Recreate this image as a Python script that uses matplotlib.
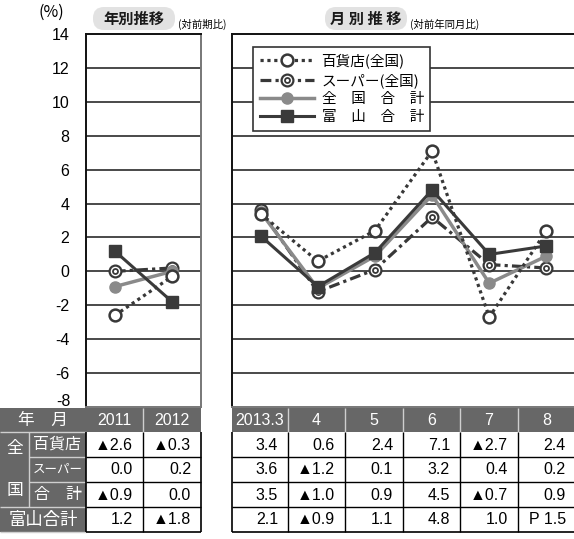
import matplotlib
matplotlib.use("Agg")
import matplotlib.pyplot as plt
from matplotlib import font_manager
from matplotlib.patches import Rectangle, FancyBboxPatch
from matplotlib.lines import Line2D

# ---- data -------------------------------------------------------------
years = ["2011", "2012"]
months = ["2013.3", "4", "5", "6", "7", "8"]

dept_year = [-2.6, -0.3]
super_year = [0.0, 0.2]
nation_year = [-0.9, 0.0]
toyama_year = [1.2, -1.8]

dept_month = [3.4, 0.6, 2.4, 7.1, -2.7, 2.4]
super_month = [3.6, -1.2, 0.1, 3.2, 0.4, 0.2]
nation_month = [3.5, -1.0, 0.9, 4.5, -0.7, 0.9]
toyama_month = [2.1, -0.9, 1.1, 4.8, 1.0, 1.5]
toyama_month_prefix = ["", "", "", "", "", "P "]

series_names = ["百貨店(全国)", "スーパー(全国)", "全　国　合　計", "富　山　合　計"]
sub_labels = ["百貨店", "スーパー", "合　計"]
yticks = list(range(-8, 15, 2))

# ---- fonts --------------------------------------------------------------
JP = "Noto Sans CJK JP"


def has_font(name):
    try:
        font_manager.findfont(name, fallback_to_default=False)
        return True
    except Exception:
        return False


NARROW = has_font("Liberation Sans Narrow")
NUM_FAMILY = ["Liberation Sans Narrow" if NARROW else "Liberation Sans", "DejaVu Sans"]
NUM_SIZE = 13 if NARROW else 11.5
plt.rcParams["font.family"] = ["Liberation Sans", JP, "DejaVu Sans"]

W, H = 574, 539
fig = plt.figure(figsize=(W / 100, H / 100), dpi=100)
fig.patch.set_facecolor("white")


def rect(x0, y0, x1, y1):
    return [x0 / W, 1 - y1 / H, (x1 - x0) / W, (y1 - y0) / H]


AX_TOP, AX_BOT = 34, 407
ax_l = fig.add_axes(rect(86, AX_TOP, 201, AX_BOT))
ax_r = fig.add_axes(rect(232, AX_TOP, 575, AX_BOT))

DARK = "#383838"
GRAY = "#8a8a8a"

styles = {
    "dept": dict(color=DARK, lw=2.3, ls=(0, (1.0, 1.15)), dash_capstyle="butt",
                 marker="o", ms=8.5, mfc="white", mec=DARK, mew=1.8),
    "super": dict(color=DARK, lw=2.3, ls=(0, (3.4, 1.3, 1.0, 1.3)), dash_capstyle="butt",
                  marker="o", ms=8.5, mfc="white", mec=DARK, mew=1.6),
    "nation": dict(color=GRAY, lw=2.5, ls="-", marker="o", ms=8, mfc=GRAY, mec=GRAY, mew=1),
    "toyama": dict(color="#3a3a3a", lw=2.2, ls="-", marker="s", ms=8, mfc="#3a3a3a",
                   mec="#3a3a3a", mew=1),
}
inner_ring = dict(ls="none", marker="o", ms=3.6, mfc="white", mec=DARK, mew=1.3)


def draw_panel(ax, n, dept, sup, nat, toy):
    xs = list(range(n))
    ax.set_xlim(-0.5, n - 0.5)
    ax.set_ylim(-8, 14)
    for v in yticks[1:-1]:
        ax.axhline(v, color="#3a3a3a", lw=1.3, zorder=1)
    ax.plot(xs, sup, zorder=3, **styles["super"])
    ax.plot(xs, sup, zorder=3, **inner_ring)
    ax.plot(xs, nat, zorder=4, **styles["nation"])
    ax.plot(xs, dept, zorder=5, **styles["dept"])
    ax.plot(xs, toy, zorder=6, **styles["toyama"])
    ax.set_xticks([])
    for s in ("top", "left"):
        ax.spines[s].set_color("#111111")
        ax.spines[s].set_linewidth(1.4)
    ax.spines["bottom"].set_color("#777777")
    ax.spines["bottom"].set_linewidth(1.4)
    ax.spines["right"].set_color("#777777")
    ax.spines["right"].set_linewidth(1.4)


draw_panel(ax_l, len(years), dept_year, super_year, nation_year, toyama_year)
draw_panel(ax_r, len(months), dept_month, super_month, nation_month, toyama_month)
ax_r.spines["right"].set_visible(False)
ax_r.set_yticks([])
ax_l.set_yticks(yticks)
# the lowest label sits just above the table, so it is nudged upward separately
ax_l.set_yticklabels(["" if v == yticks[0] else str(v) for v in yticks],
                     fontsize=11.5, family="Liberation Sans")
ax_l.tick_params(axis="y", length=0, pad=12)
fig.text(71 / W, 1 - 401 / H, str(yticks[0]), ha="right", va="center", fontsize=11.5,
         family="Liberation Sans")

# ---- legend ---------------------------------------------------------------
h_dept = Line2D([], [], **styles["dept"])
h_sup = (Line2D([], [], **styles["super"]), Line2D([], [], **inner_ring))
h_nat = Line2D([], [], **styles["nation"])
h_toy = Line2D([], [], **styles["toyama"])
leg = fig.legend([h_dept, h_sup, h_nat, h_toy], series_names,
                 loc="upper left", bbox_to_anchor=(253 / W, 1 - 47 / H),
                 borderaxespad=0, fancybox=False, numpoints=1,
                 handlelength=3.7, handletextpad=0.55, labelspacing=0.3,
                 borderpad=0.45, prop=font_manager.FontProperties(family=[JP], size=10.5))
leg.get_frame().set_edgecolor("#333333")
leg.get_frame().set_linewidth(1.2)
leg.get_frame().set_alpha(1)

# ---- table / header overlay (pixel coordinates) ---------------------------
tab = fig.add_axes([0, 0, 1, 1], zorder=10)
tab.set_xlim(0, W)
tab.set_ylim(H, 0)
tab.axis("off")
tab.patch.set_alpha(0)

for (bx0, bx1, title, tx, note) in [(93, 175, "年別推移", 178, "(対前期比)"),
                                     (325, 407, "月 別 推 移", 410, "(対前年同月比)")]:
    tab.add_patch(FancyBboxPatch((bx0, 7), bx1 - bx0, 23,
                                 boxstyle="round,pad=0,rounding_size=11",
                                 fc="#e2e2e2", ec="none"))
    tab.text((bx0 + bx1) / 2, 19, title, ha="center", va="center", fontsize=11,
             family=[JP], fontweight="bold", color="#1a1a1a")
    tab.text(tx, 24, note, ha="left", va="center", fontsize=7.5, family=[JP])
tab.text(51, 12, "(%)", ha="center", va="center", fontsize=11.5, family=[JP])

HEAD_BG = "#676767"
LIGHT = "#cfcfcf"
rows_y = [408, 432, 457, 482, 507, 532]
left_cols = [86, 143, 201]
right_cols = [232, 288, 345, 403, 460, 518, 576]


def fmt(v, prefix=""):
    if v < 0:
        return prefix + "▲" + f"{abs(v):.1f}"
    return prefix + f"{v:.1f}"


def hline(x0, x1, y, color, lw):
    tab.plot([x0, x1], [y, y], color=color, lw=lw, solid_capstyle="butt")


def vline(x, y0, y1, color, lw):
    tab.plot([x, x], [y0, y1], color=color, lw=lw, solid_capstyle="butt")


def num_text(x, y, s, ha="right", color="black"):
    tab.text(x, y, s, ha=ha, va="center", fontsize=NUM_SIZE, family=NUM_FAMILY,
             color=color)


# label block on the far left
tab.add_patch(Rectangle((0, rows_y[0]), 86, rows_y[-1] - rows_y[0], fc=HEAD_BG, ec="none"))
hline(0, 86, rows_y[1], LIGHT, 1.0)
hline(29, 86, rows_y[2], LIGHT, 1.0)
hline(29, 86, rows_y[3], LIGHT, 1.0)
hline(0, 86, rows_y[4], LIGHT, 1.0)
hline(0, 86, rows_y[5], LIGHT, 1.0)
vline(29, rows_y[1], rows_y[4], LIGHT, 1.0)
tab.text(43, 420, "年　月", ha="center", va="center", color="white", fontsize=12, family=[JP])
tab.text(14.5, 448, "全", ha="center", va="center", color="white", fontsize=12, family=[JP])
tab.text(14.5, 491, "国", ha="center", va="center", color="white", fontsize=12, family=[JP])
for i, lab in enumerate(sub_labels):
    yc = (rows_y[i + 1] + rows_y[i + 2]) / 2
    fs = 9 if lab == "スーパー" else 11.5
    tab.text(57.5, yc, lab, ha="center", va="center", color="white", fontsize=fs, family=[JP])
tab.text(43, 519.5, "富山合計", ha="center", va="center", color="white", fontsize=12.5,
         family=[JP])


def data_block(cols, heads, columns, prefixes=None):
    x0, x1 = cols[0], cols[-1]
    tab.add_patch(Rectangle((x0, rows_y[0]), x1 - x0, rows_y[1] - rows_y[0],
                            fc=HEAD_BG, ec="none"))
    for c in cols[1:-1]:
        vline(c, rows_y[0], rows_y[1], LIGHT, 1.0)
        vline(c, rows_y[1], rows_y[-1], "black", 1.0)
    for y in rows_y[2:-1]:
        hline(x0, x1, y, "black", 1.0)
    hline(x0, x1, rows_y[-1], "black", 1.2)
    vline(x0, rows_y[1], rows_y[-1], "black", 1.2)
    vline(x1, rows_y[1], rows_y[-1], "black", 1.2)
    for j, head in enumerate(heads):
        xc = (cols[j] + cols[j + 1]) / 2
        num_text(xc, (rows_y[0] + rows_y[1]) / 2 + 0.5, head, ha="center", color="white")
        for r, series in enumerate(columns):
            pre = prefixes[r][j] if prefixes and prefixes[r] else ""
            yc = (rows_y[r + 1] + rows_y[r + 2]) / 2 + 0.5
            num_text(cols[j + 1] - 10, yc, fmt(series[j], pre))


data_block(left_cols, years, [dept_year, super_year, nation_year, toyama_year])
data_block(right_cols, months, [dept_month, super_month, nation_month, toyama_month],
           prefixes=[None, None, None, toyama_month_prefix])

fig.savefig("out.png", dpi=100)
